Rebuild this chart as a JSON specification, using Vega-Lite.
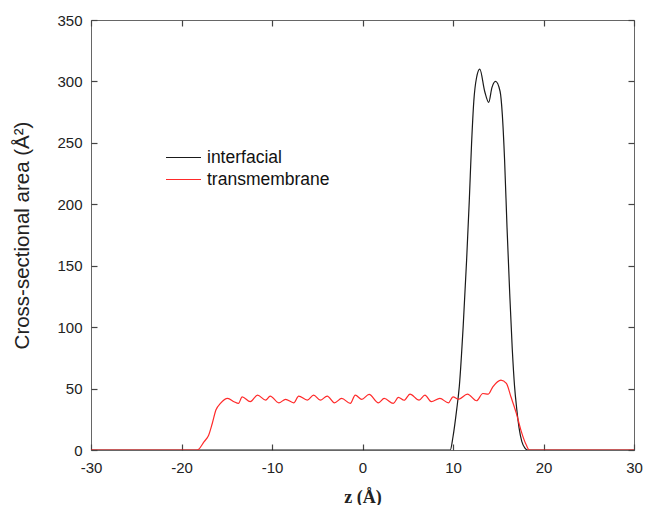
{
  "$schema": "https://vega.github.io/schema/vega-lite/v6.json",
  "width": 543,
  "height": 430,
  "autosize": {"type": "none"},
  "padding": {"left": 91, "top": 20, "right": 12, "bottom": 55},
  "config": {
    "view": {"stroke": "#666", "strokeWidth": 1},
    "font": "Liberation Sans",
    "axis": {
      "grid": false,
      "domain": false,
      "offset": -6,
      "tickColor": "#444",
      "tickSize": 6,
      "tickWidth": 1.2,
      "labelFont": "Liberation Sans",
      "labelFontSize": 15,
      "labelColor": "#222",
      "titleColor": "#222"
    }
  },
  "datasets": {
    "curves": [
      {"z": -30, "area": 0, "series": "interfacial"},
      {"z": 9.7, "area": 0, "series": "interfacial"},
      {"z": 10.0, "area": 10.8, "series": "interfacial"},
      {"z": 10.4, "area": 32.5, "series": "interfacial"},
      {"z": 10.7, "area": 52, "series": "interfacial"},
      {"z": 11.12, "area": 100, "series": "interfacial"},
      {"z": 11.5, "area": 154, "series": "interfacial"},
      {"z": 11.8, "area": 203, "series": "interfacial"},
      {"z": 12.05, "area": 249, "series": "interfacial"},
      {"z": 12.3, "area": 284, "series": "interfacial"},
      {"z": 12.6, "area": 303, "series": "interfacial"},
      {"z": 12.96, "area": 310, "series": "interfacial"},
      {"z": 13.5, "area": 292, "series": "interfacial"},
      {"z": 13.95, "area": 283, "series": "interfacial"},
      {"z": 14.3, "area": 295, "series": "interfacial"},
      {"z": 14.7, "area": 300, "series": "interfacial"},
      {"z": 15.2, "area": 292, "series": "interfacial"},
      {"z": 15.45, "area": 273, "series": "interfacial"},
      {"z": 15.7, "area": 236, "series": "interfacial"},
      {"z": 15.97, "area": 181, "series": "interfacial"},
      {"z": 16.27, "area": 127, "series": "interfacial"},
      {"z": 16.55, "area": 82, "series": "interfacial"},
      {"z": 16.8, "area": 52, "series": "interfacial"},
      {"z": 17.05, "area": 33, "series": "interfacial"},
      {"z": 17.3, "area": 18, "series": "interfacial"},
      {"z": 17.6, "area": 7, "series": "interfacial"},
      {"z": 17.95, "area": 1.5, "series": "interfacial"},
      {"z": 18.25, "area": 0, "series": "interfacial"},
      {"z": 30, "area": 0, "series": "interfacial"},
      {"z": -30, "area": 0, "series": "transmembrane"},
      {"z": -18.25, "area": 0, "series": "transmembrane"},
      {"z": -17.5, "area": 6.8, "series": "transmembrane"},
      {"z": -17.0, "area": 12, "series": "transmembrane"},
      {"z": -16.6, "area": 21.6, "series": "transmembrane"},
      {"z": -16.2, "area": 32.5, "series": "transmembrane"},
      {"z": -15.7, "area": 37.9, "series": "transmembrane"},
      {"z": -14.9, "area": 42, "series": "transmembrane"},
      {"z": -14.2, "area": 39.3, "series": "transmembrane"},
      {"z": -13.7, "area": 37.9, "series": "transmembrane"},
      {"z": -13.3, "area": 43.3, "series": "transmembrane"},
      {"z": -12.4, "area": 39.3, "series": "transmembrane"},
      {"z": -11.6, "area": 44.7, "series": "transmembrane"},
      {"z": -10.7, "area": 40.6, "series": "transmembrane"},
      {"z": -10.2, "area": 43.9, "series": "transmembrane"},
      {"z": -9.25, "area": 38.4, "series": "transmembrane"},
      {"z": -8.5, "area": 41.2, "series": "transmembrane"},
      {"z": -7.6, "area": 38.4, "series": "transmembrane"},
      {"z": -7.05, "area": 43.9, "series": "transmembrane"},
      {"z": -6.1, "area": 40.6, "series": "transmembrane"},
      {"z": -5.4, "area": 44.7, "series": "transmembrane"},
      {"z": -4.66, "area": 40.6, "series": "transmembrane"},
      {"z": -3.9, "area": 43.9, "series": "transmembrane"},
      {"z": -3.1, "area": 38.4, "series": "transmembrane"},
      {"z": -2.3, "area": 42, "series": "transmembrane"},
      {"z": -1.35, "area": 37.9, "series": "transmembrane"},
      {"z": -0.8, "area": 44.7, "series": "transmembrane"},
      {"z": -0.08, "area": 41.2, "series": "transmembrane"},
      {"z": 0.73, "area": 45.2, "series": "transmembrane"},
      {"z": 1.76, "area": 38.4, "series": "transmembrane"},
      {"z": 2.4, "area": 42, "series": "transmembrane"},
      {"z": 3.4, "area": 37.9, "series": "transmembrane"},
      {"z": 3.96, "area": 42.8, "series": "transmembrane"},
      {"z": 4.6, "area": 40.5, "series": "transmembrane"},
      {"z": 5.25, "area": 45.5, "series": "transmembrane"},
      {"z": 6.25, "area": 40.6, "series": "transmembrane"},
      {"z": 6.9, "area": 44.7, "series": "transmembrane"},
      {"z": 7.6, "area": 39.3, "series": "transmembrane"},
      {"z": 8.55, "area": 42, "series": "transmembrane"},
      {"z": 9.5, "area": 38.4, "series": "transmembrane"},
      {"z": 10.0, "area": 43.3, "series": "transmembrane"},
      {"z": 10.6, "area": 41.2, "series": "transmembrane"},
      {"z": 11.6, "area": 45.5, "series": "transmembrane"},
      {"z": 12.6, "area": 40.1, "series": "transmembrane"},
      {"z": 13.3, "area": 46, "series": "transmembrane"},
      {"z": 13.9, "area": 45.5, "series": "transmembrane"},
      {"z": 14.4, "area": 51.4, "series": "transmembrane"},
      {"z": 15.3, "area": 56.9, "series": "transmembrane"},
      {"z": 15.9, "area": 54.2, "series": "transmembrane"},
      {"z": 16.4, "area": 43.3, "series": "transmembrane"},
      {"z": 17.0, "area": 29.8, "series": "transmembrane"},
      {"z": 17.5, "area": 16.2, "series": "transmembrane"},
      {"z": 18.1, "area": 4, "series": "transmembrane"},
      {"z": 18.45, "area": 0, "series": "transmembrane"},
      {"z": 30, "area": 0, "series": "transmembrane"}
    ]
  },
  "data": {"name": "curves"},
  "layer": [
    {
      "mark": {"type": "line", "interpolate": "monotone", "strokeWidth": 1.2, "clip": true},
      "encoding": {
        "x": {
          "field": "z", "type": "quantitative",
          "scale": {"domain": [-30, 30], "nice": false, "zero": false},
          "axis": {
            "orient": "bottom", "values": [-30, -20, -10, 0, 10, 20, 30],
            "labelExpr": "'' + datum.value",
            "labelPadding": 10, "labelFlush": false,
            "title": "z (Å)", "titleFont": "Liberation Serif", "titleFontWeight": "bold",
            "titleFontSize": 18, "titleY": 53, "titleBaseline": "middle"
          }
        },
        "y": {
          "field": "area", "type": "quantitative",
          "scale": {"domain": [0, 350], "nice": false},
          "axis": {
            "orient": "left", "values": [0, 50, 100, 150, 200, 250, 300, 350],
            "labelPadding": 9, "labelFlush": false,
            "title": "Cross-sectional area (Å²)", "titleFontSize": 20.5, "titleFontWeight": "normal",
            "titleX": -75, "titleBaseline": "middle"
          }
        },
        "color": {
          "field": "series", "type": "nominal",
          "scale": {"domain": ["interfacial", "transmembrane"], "range": ["#1a1a1a", "#ff2a2a"]},
          "legend": {
            "title": null, "orient": "none", "legendX": 79, "legendY": 124,
            "symbolType": "M-1.4,0H1.4", "symbolSize": 625, "symbolStrokeWidth": 1.2,
            "labelFontSize": 17.5, "labelColor": "#111", "labelOffset": 10,
            "padding": 0, "rowPadding": 0
          }
        }
      }
    },
    {
      "mark": {"type": "line", "strokeOpacity": 0},
      "encoding": {
        "x": {
          "field": "z", "type": "quantitative",
          "scale": {"domain": [-30, 30], "nice": false, "zero": false},
          "axis": {"orient": "top", "values": [-30, -20, -10, 0, 10, 20, 30], "labels": false, "title": null}
        },
        "y": {
          "field": "area", "type": "quantitative",
          "scale": {"domain": [0, 350], "nice": false},
          "axis": {"orient": "right", "values": [0, 50, 100, 150, 200, 250, 300, 350], "labels": false, "title": null}
        },
        "detail": {"field": "series", "type": "nominal"}
      }
    }
  ],
  "resolve": {"axis": {"x": "independent", "y": "independent"}}
}
